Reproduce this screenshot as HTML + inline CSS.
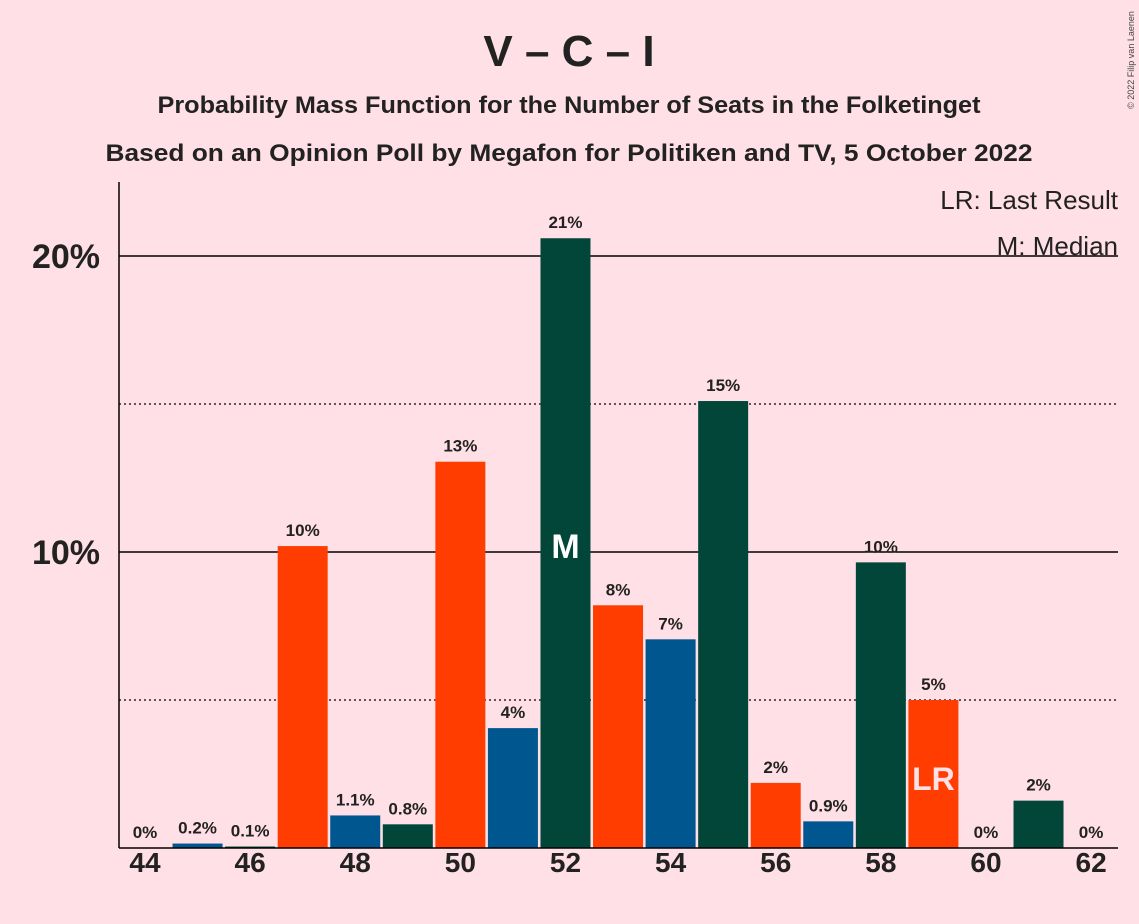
<!DOCTYPE html>
<html><head><meta charset="utf-8"><style>
body{margin:0;background:#FFE0E6;}
svg{display:block;font-family:"Liberation Sans",sans-serif;font-weight:bold;}
</style></head><body>
<svg id="c" width="1139" height="924">
<rect width="1139" height="924" fill="#FFE0E6"/>
<text x="569" y="66" text-anchor="middle" font-size="44" fill="#222">V – C – I</text>
<text x="569" y="113" text-anchor="middle" font-size="24" textLength="823" lengthAdjust="spacingAndGlyphs" fill="#222">Probability Mass Function for the Number of Seats in the Folketinget</text>
<text x="569" y="161" text-anchor="middle" font-size="24" textLength="927" lengthAdjust="spacingAndGlyphs" fill="#222">Based on an Opinion Poll by Megafon for Politiken and TV, 5 October 2022</text>
<text x="1118" y="209" text-anchor="end" font-size="26" font-weight="normal" fill="#222">LR: Last Result</text>
<text x="1118" y="255" text-anchor="end" font-size="26" font-weight="normal" fill="#222">M: Median</text>
<text transform="translate(1134,60) rotate(-90)" text-anchor="middle" font-size="9" font-weight="normal" fill="#444">© 2022 Filip van Laenen</text>
<g id="grid"></g><g id="bars"></g><g id="labels"></g>
<line x1="119" y1="182" x2="119" y2="848" stroke="#000" stroke-width="1.5"/>
<line x1="119" y1="848" x2="1118" y2="848" stroke="#000" stroke-width="1.5"/>
</svg>
<script>
const seats=[44,45,46,47,48,49,50,51,52,53,54,55,56,57,58,59,60,61,62];
const probs=[0,0.15,0.05,10.2,1.1,0.8,13.05,4.05,20.6,8.2,7.05,15.1,2.2,0.9,9.65,5.0,0,1.6,0];
const valueLabels=["0%","0.2%","0.1%","10%","1.1%","0.8%","13%","4%","21%","8%","7%","15%","2%","0.9%","10%","5%","0%","2%","0%"];
const xTicks=[44,46,48,50,52,54,56,58,60,62];
const yTicks=[5,10,15,20];
const yTickLabels={10:"10%",20:"20%"};
const median=52, lastResult=59;
const NS="http://www.w3.org/2000/svg";
const x=s=>145+(s-44)*52.56;
const y=v=>848-v*29.6;
const colors=["#FF3D00","#00568F","#02463A"];
function mk(tag,attrs,parent,text){const e=document.createElementNS(NS,tag);for(const k in attrs)e.setAttribute(k,attrs[k]);if(text!==undefined)e.textContent=text;document.getElementById(parent).appendChild(e);return e;}
yTicks.forEach(t=>{
  const major=t%10===0;
  const l=mk('line',{x1:119,x2:1118,y1:y(t),y2:y(t),stroke:'#000','stroke-width':major?1.5:1.2,'stroke-dasharray':major?'':'2,3'},'grid');
  
  
  if(yTickLabels[t]){const tx=mk('text',{x:100,y:y(t)+12,'text-anchor':'end','font-size':34,fill:'#222'},'grid',yTickLabels[t]);
  
  }
});
xTicks.forEach(s=>{const tx=mk('text',{x:x(s),y:872,'text-anchor':'middle','font-size':28,fill:'#222'},'grid',String(s));

});
seats.forEach((s,i)=>{
  const v=probs[i];
  const r=mk('rect',{x:x(s)-25,y:y(v),width:50,height:848-y(v),fill:colors[(s-44)%3]},'bars');
  
  
  const t=mk('text',{x:x(s),y:y(v)-10,'text-anchor':'middle','font-size':17,fill:'#222'},'labels',valueLabels[i]);
  
  
});
const m=mk('text',{x:x(median),y:y(10)+6,'text-anchor':'middle','font-size':34,fill:'#fff'},'labels','M');


const lr=mk('text',{x:x(lastResult),y:790,'text-anchor':'middle','font-size':32,fill:'#FFE0E6'},'labels','LR');


</script>
</body></html>
